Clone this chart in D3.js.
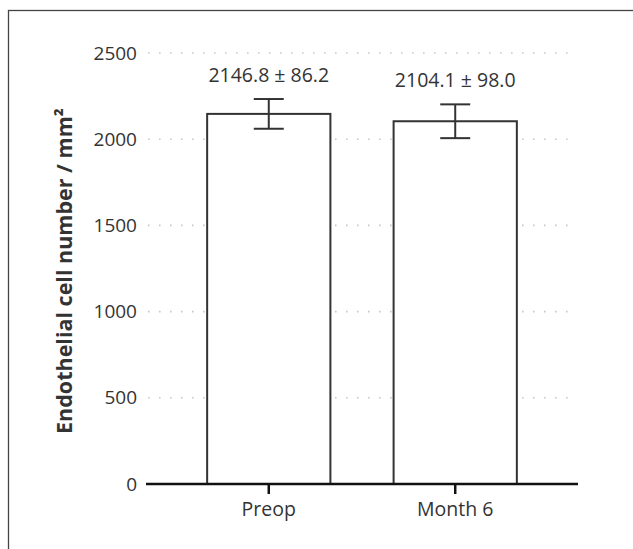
<!DOCTYPE html>
<html>
<head>
<meta charset="utf-8">
<script src="https://cdn.jsdelivr.net/npm/d3@7/dist/d3.min.js"></script>
<style>
  html, body { margin: 0; padding: 0; background: #fff; }
  svg { display: block; }
  text { font-family: "Open Sans", "Noto Sans", sans-serif; fill: #333; }
</style>
</head>
<body>
<svg id="chart" width="633" height="549"></svg>
<script>
const categories = ["Preop", "Month 6"];
const means = [2146.8, 2104.1];
const sds = [86.2, 98.0];
const valueLabels = ["2146.8 ± 86.2", "2104.1 ± 98.0"];
const yTicks = [0, 500, 1000, 1500, 2000, 2500];
const yTitle = "Endothelial cell number / mm²";

const svg = d3.select("#chart");

// outer frame
svg.append("rect")
  .attr("x", 8.5).attr("y", 10.5)
  .attr("width", 700).attr("height", 700)
  .attr("fill", "none").attr("stroke", "#444").attr("stroke-width", 1.3);

const x = d3.scaleBand()
  .domain(categories)
  .range([146, 578])
  .paddingInner(0.339)
  .paddingOuter(0.328);

const y = d3.scaleLinear().domain([0, 2500]).range([484, 53]);

// gridlines
svg.append("g").selectAll("line")
  .data(yTicks.filter(d => d > 0))
  .join("line")
  .attr("x1", 148).attr("x2", 572)
  .attr("y1", d => y(d)).attr("y2", d => y(d))
  .attr("stroke", "#c8c8c8").attr("stroke-width", 1.6)
  .attr("stroke-dasharray", "1.6,9.4");

// y axis labels (no line)
const yAxis = d3.axisLeft(y).tickValues(yTicks).tickSize(0).tickPadding(0).tickFormat(d3.format("d"));
const gy = svg.append("g").attr("transform", "translate(137,0)").call(yAxis);
gy.select(".domain").remove();
gy.selectAll("text")
  .style("font-family", "'Open Sans', 'Noto Sans', sans-serif")
  .style("font-size", "19px").attr("fill", "#333");

// bars
svg.append("g").selectAll("rect")
  .data(categories)
  .join("rect")
  .attr("x", d => x(d))
  .attr("y", (d, i) => y(means[i]))
  .attr("width", x.bandwidth())
  .attr("height", (d, i) => y(0) - y(means[i]))
  .attr("fill", "#fff").attr("stroke", "#333").attr("stroke-width", 2);

// error bars
const eb = svg.append("g").attr("stroke", "#333").attr("stroke-width", 2);
categories.forEach((c, i) => {
  const cx = x(c) + x.bandwidth() / 2;
  const hi = y(means[i] + sds[i]), lo = y(means[i] - sds[i]);
  eb.append("line").attr("x1", cx).attr("x2", cx).attr("y1", hi).attr("y2", lo);
  eb.append("line").attr("x1", cx - 15).attr("x2", cx + 15).attr("y1", hi).attr("y2", hi);
  eb.append("line").attr("x1", cx - 15).attr("x2", cx + 15).attr("y1", lo).attr("y2", lo);
  svg.append("text")
    .attr("x", cx).attr("y", hi - 17)
    .attr("text-anchor", "middle")
    .style("font-size", "19.5px")
    .text(valueLabels[i]);
});

// x axis
const xAxis = d3.axisBottom(x).tickSize(10).tickPadding(8);
const gx = svg.append("g").attr("transform", "translate(0,484)").call(xAxis);
gx.select(".domain").attr("d", "M146,0H578").attr("stroke", "#111").attr("stroke-width", 2.5);
gx.selectAll(".tick line").attr("stroke", "#111").attr("stroke-width", 2.5);
gx.selectAll("text")
  .style("font-family", "'Open Sans', 'Noto Sans', sans-serif")
  .style("font-size", "19.5px").attr("fill", "#333");

// y title
svg.append("text")
  .attr("transform", "translate(72,271) rotate(-90)")
  .attr("text-anchor", "middle")
  .style("font-size", "21.5px").style("font-weight", "bold")
  .attr("fill", "#111")
  .text(yTitle);
</script>
</body>
</html>
